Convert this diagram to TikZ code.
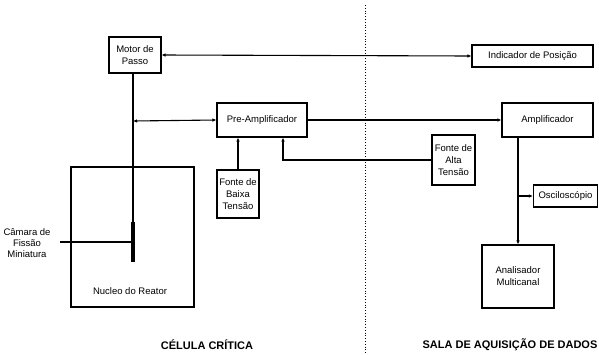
\documentclass[tikz,border=0pt]{standalone}
\usepackage{fontspec}
\setmainfont{Liberation Sans}
\usetikzlibrary{arrows.meta, positioning}

\tikzset{
    bloco/.style={draw, line width=1.1pt, align=center, inner sep=0pt, font=\fontsize{9.5}{12}\selectfont},
    liga/.style={line width=1.1pt},
    seta/.style={line width=1.1pt, -{Latex[length=4pt,width=3.5pt]}},
    seta2/.style={line width=1.1pt, {Latex[length=4pt,width=3.5pt]}-{Latex[length=4pt,width=3.5pt]}},
    titulo/.style={font=\bfseries\fontsize{11}{13}\selectfont}
}

\begin{document}
\begin{tikzpicture}[x=1pt, y=-1pt]
    \useasboundingbox (0,0) rectangle (599,354);

    % Blocos da celula critica
    \node[bloco, minimum width=52pt, minimum height=36pt] (motor) at (135,55) {Motor de\\Passo};
    \node[bloco, minimum width=90pt, minimum height=34pt] (preamp) at (262,120) {Pre-Amplificador};
    \node[bloco, minimum width=42pt, minimum height=48pt] (baixa) at (238,194) {Fonte de\\Baixa\\Tensão};
    \node[bloco, minimum width=123pt, minimum height=140pt] (reator) at (132.5,237) {};
    \node[font=\fontsize{9.5}{12}\selectfont] (reatortxt) at (130,291) {Nucleo do Reator};
    \node[font=\fontsize{9.5}{11}\selectfont, align=center, inner sep=0pt] (camara) at (27,243) {Câmara de\\Fissão\\Miniatura};

    % Blocos da sala de aquisicao
    \node[bloco, minimum width=121pt, minimum height=22pt] (indicador) at (532.5,56) {Indicador de Posição};
    \node[bloco, minimum width=91pt, minimum height=34pt] (amp) at (547.5,120) {Amplificador};
    \node[bloco, minimum width=43pt, minimum height=50pt] (alta) at (453.5,160) {Fonte de\\Alta\\Tensão};
    \node[bloco, minimum width=64pt, minimum height=22pt] (osc) at (565.5,196) {Osciloscópio};
    \node[bloco, minimum width=72pt, minimum height=63pt] (anal) at (518,276.5) {Analisador\\Multicanal};

    % Detector
    \coordinate (bartop) at (133,222);
    \coordinate (barbot) at (133,262);
    \coordinate (junta) at (133,121);
    \draw[line width=3.5pt] (bartop) -- (barbot);
    \draw[liga] (motor.south -| bartop) -- (bartop);
    \draw[liga] (60,242) -- (60,242 -| bartop);

    % Ligacoes
    \draw[seta2] (motor.east) -- (indicador.west);
    \draw[seta2] (junta) -- (preamp.west);
    \draw[seta] (preamp.east) -- (amp.west);
    \draw[seta] (baixa.north) -- (baixa.north |- preamp.south);
    \draw[seta] (alta.west) -| ([xshift=21pt]preamp.south);
    \draw[seta] (amp.south -| anal.north) -- (anal.north);
    \draw[seta] (osc.west -| anal.north) -- (osc.west);

    % Divisao
    \draw[line width=0.8pt, dotted] (365,5) -- (365,354);
    \node[titulo] (celula) at (207,345) {CÉLULA CRÍTICA};
    \node[titulo] (sala) at (510,345) {SALA DE AQUISIÇÃO DE DADOS};
\end{tikzpicture}
\end{document}
